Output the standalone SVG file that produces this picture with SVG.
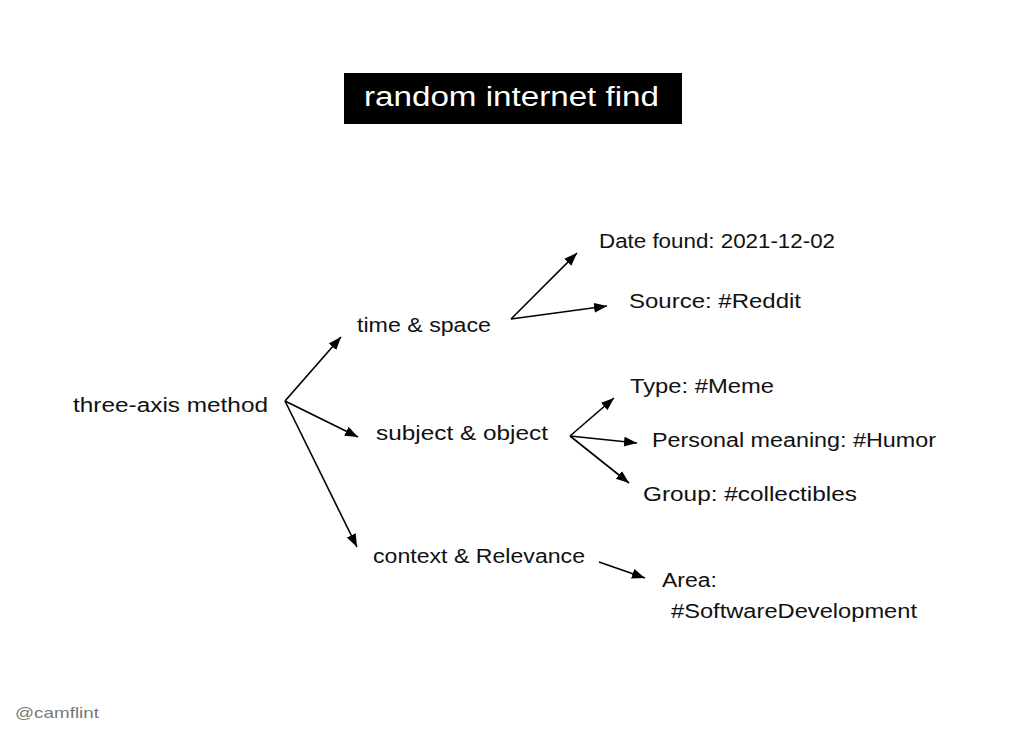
<svg xmlns="http://www.w3.org/2000/svg" width="1024" height="734" viewBox="0 0 1024 734">
<style>
text{font-family:"Liberation Sans","Open Sans",sans-serif;font-size:20px;fill:#111}
.title{fill:#fff;font-size:27px}
.sig{fill:#777;font-size:15px}
.c line{stroke:#000;stroke-width:1.6;marker-end:url(#ah)}
</style>
<defs>
<marker id="ah" markerUnits="userSpaceOnUse" markerWidth="14" markerHeight="12" refX="13" refY="5" orient="auto">
<path d="M0,0 L13,5 L0,10 Z" fill="#000"/>
</marker>
</defs>
<rect width="1024" height="734" fill="#fff"/>
<g id="title">
<rect x="344" y="73" width="338" height="51" fill="#000"/>
<text class="title" x="364" y="106" textLength="295" lengthAdjust="spacingAndGlyphs">random internet find</text>
</g>
<g class="c" id="connectors">
<line x1="285" y1="401" x2="341" y2="337"/>
<line x1="285" y1="401" x2="358" y2="437"/>
<line x1="285" y1="401" x2="357" y2="547"/>
<line x1="511" y1="319" x2="577" y2="253"/>
<line x1="511" y1="319" x2="607" y2="306"/>
<line x1="570" y1="436" x2="614" y2="398"/>
<line x1="570" y1="436" x2="637" y2="443"/>
<line x1="570" y1="436" x2="629" y2="483"/>
<line x1="599" y1="562" x2="645" y2="578"/>
</g>
<g id="root"><text x="73" y="412" textLength="195" lengthAdjust="spacingAndGlyphs">three-axis method</text></g>
<g id="time"><text x="357" y="332" textLength="134" lengthAdjust="spacingAndGlyphs">time &amp; space</text></g>
<g id="subject"><text x="376" y="440" textLength="172" lengthAdjust="spacingAndGlyphs">subject &amp; object</text></g>
<g id="context"><text x="373" y="563" textLength="212" lengthAdjust="spacingAndGlyphs">context &amp; Relevance</text></g>
<g id="date"><text x="599" y="248" textLength="236" lengthAdjust="spacingAndGlyphs">Date found: 2021-12-02</text></g>
<g id="source"><text x="629" y="308" textLength="172" lengthAdjust="spacingAndGlyphs">Source: #Reddit</text></g>
<g id="type"><text x="630" y="393" textLength="144" lengthAdjust="spacingAndGlyphs">Type: #Meme</text></g>
<g id="meaning"><text x="652" y="447" textLength="284" lengthAdjust="spacingAndGlyphs">Personal meaning: #Humor</text></g>
<g id="group"><text x="643" y="501" textLength="214" lengthAdjust="spacingAndGlyphs">Group: #collectibles</text></g>
<g id="area">
<text x="662" y="587" textLength="55" lengthAdjust="spacingAndGlyphs">Area:</text>
<text x="671" y="618" textLength="246" lengthAdjust="spacingAndGlyphs">#SoftwareDevelopment</text>
</g>
<text class="sig" x="15" y="718" textLength="84" lengthAdjust="spacingAndGlyphs">@camflint</text>
</svg>
